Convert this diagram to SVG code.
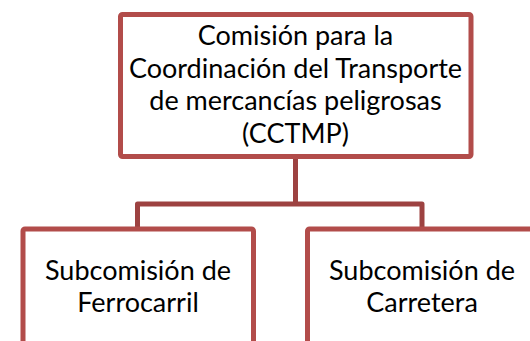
<svg xmlns="http://www.w3.org/2000/svg" width="530" height="341" viewBox="0 0 530 341">
<style>
.box{fill:#ffffff;stroke:#b24c4a;stroke-width:5}
.con{fill:none;stroke:#9d4241;stroke-width:5;stroke-linejoin:round}
text{font-family:Lato,"Open Sans","Liberation Sans",sans-serif;font-size:27px;fill:#000000;text-anchor:middle}
</style>
<rect width="530" height="341" fill="#ffffff"/>
<g id="connectors">
<path class="con" d="M295.5,158 V204 M137.5,229 V204 H422 V229"/>
</g>
<g id="top">
<rect class="box" x="120.5" y="14.5" width="350.5" height="142" rx="2"/>
<text x="295.5" y="45">Comisión para la</text>
<text x="295.5" y="77.5">Coordinación del Transporte</text>
<text x="295.5" y="110">de mercancías peligrosas</text>
<text x="295.5" y="142.5">(CCTMP)</text>
</g>
<g id="ferrocarril">
<rect class="box" x="23" y="229" width="230.5" height="140" rx="2"/>
<text x="138" y="279.5">Subcomisión de</text>
<text x="138" y="312">Ferrocarril</text>
</g>
<g id="carretera">
<rect class="box" x="307.5" y="229" width="230.5" height="140" rx="2"/>
<text x="422" y="279.5">Subcomisión de</text>
<text x="422" y="312">Carretera</text>
</g>
</svg>
